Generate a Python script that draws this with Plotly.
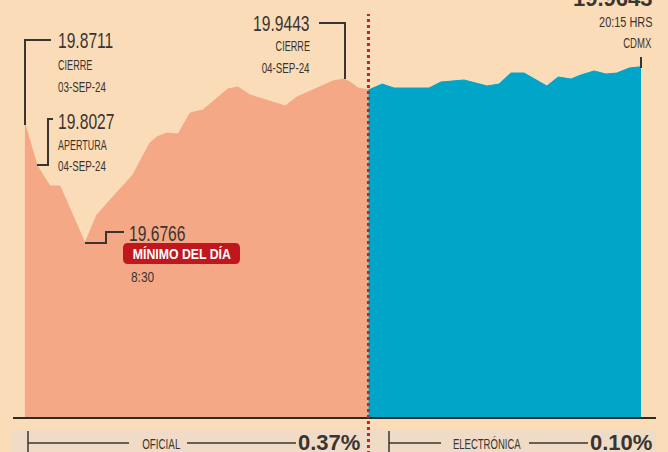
import json
import plotly.graph_objects as go

# ---------------- data ----------------
# official session (hours of day, MXN per USD)
oficial_hora = [7.23, 7.49, 7.76, 7.97, 8.50, 8.75, 9.03, 9.51, 9.87, 10.02, 10.23, 10.47,
                10.72, 10.99, 11.52, 11.73, 11.99, 12.73, 12.98, 13.40, 13.74, 13.97,
                14.10, 14.27, 14.49]
oficial_valor = [19.8711, 19.8027, 19.7697, 19.7697, 19.6766, 19.7224, 19.7469, 19.7877,
                 19.8399, 19.8497, 19.8562, 19.8546, 19.8888, 19.8937, 19.9280, 19.9313,
                 19.9182, 19.9003, 19.9149, 19.9296, 19.9410, 19.9443, 19.9394, 19.9296,
                 19.9264]
# electronic session
electronica_hora = [14.49, 14.78, 15.03, 15.77, 16.02, 16.51, 17.00, 17.25, 17.50, 17.78,
                    18.26, 18.50, 18.77, 18.98, 19.26, 19.51, 19.74, 20.00, 20.25]
electronica_valor = [19.9264, 19.9361, 19.9296, 19.9296, 19.9394, 19.9427, 19.9329, 19.9361,
                     19.9541, 19.9541, 19.9329, 19.9476, 19.9443, 19.9508, 19.9574, 19.9524,
                     19.9541, 19.9622, 19.9643]
var_oficial = "0.37%"
var_electronica = "0.10%"

# ---------------- geometry helpers ----------------
W, H = 668, 452
PLOT_H = 418
X0, X1 = 6.7037, 20.8206
Y0, Y1 = 19.3913, 20.0732

def px2x(px):
    return X0 + (X1 - X0) * px / W

def py2y(py):
    return Y1 - (Y1 - Y0) * py / PLOT_H

def ppx(px):
    return px / W

def ppy(py):
    return (PLOT_H - py) / PLOT_H

BG = "#FBDCB8"
SALMON = "#F4A886"
BLUE = "#00A5C8"
INK = "#3A3431"
RED = "#C0171E"
FONT = "Liberation Sans, Arial, sans-serif"

fig = go.Figure()
fig.add_trace(go.Scatter(x=oficial_hora, y=oficial_valor, mode="lines", fill="tozeroy",
                         fillcolor=SALMON, line=dict(color=SALMON, width=1),
                         hoverinfo="skip", showlegend=False))
fig.add_trace(go.Scatter(x=electronica_hora, y=electronica_valor, mode="lines", fill="tozeroy",
                         fillcolor=BLUE, line=dict(color=BLUE, width=1),
                         hoverinfo="skip", showlegend=False))

shapes = []
ann = []
squeeze = []

def line_path(points, width=2, color=INK):
    d = "M " + " L ".join(f"{ppx(a)},{ppy(b)}" for a, b in points)
    shapes.append(dict(type="path", path=d, xref="paper", yref="paper",
                       line=dict(color=color, width=width)))

def text(px, py, s, size=14, anchor="left", color=INK, bold=False, sx=0.65):
    ann.append(dict(x=ppx(px), y=ppy(py), xref="paper", yref="paper",
                    text=f"<b>{s}</b>" if bold else s,
                    showarrow=False, xanchor=anchor, yanchor="middle", align=anchor,
                    font=dict(family=FONT, size=size, color=color)))
    squeeze.append(sx)

# bottom band
shapes.append(dict(type="rect", xref="paper", yref="paper", x0=ppx(12), x1=ppx(656),
                   y0=ppy(452), y1=ppy(429), fillcolor="#F0DCC6", line=dict(width=0),
                   layer="below"))
# baseline
shapes.append(dict(type="line", xref="paper", yref="paper", x0=ppx(13), x1=ppx(656),
                   y0=0, y1=0, line=dict(color="#2E2A28", width=2)))
# divider between sessions
shapes.append(dict(type="line", xref="x", yref="paper", x0=oficial_hora[-1], x1=oficial_hora[-1],
                   y0=ppy(460), y1=ppy(14), line=dict(color="#C8202A", width=3, dash="dot")))

# previous close
line_path([(25, 125), (25, 40), (51, 40)])
text(56, 40, f"{oficial_valor[0]:.4f}", size=22, sx=0.71)
text(56, 65, "CIERRE")
text(56, 87, "03-SEP-24", sx=0.7)
# opening
line_path([(37, 165), (48, 165), (48, 119), (53, 119)])
text(56, 122, f"{oficial_valor[1]:.4f}", size=22, sx=0.71)
text(56, 145, "APERTURA", sx=0.64)
text(56, 166, "04-SEP-24", sx=0.7)
# minimum
line_path([(85, 243), (106, 243), (106, 232), (124, 232)])
text(127, 233, f"{min(oficial_valor):.4f}", size=22, sx=0.71)
r = 5
x0b, x1b, y0b, y1b = 123, 240, 243, 264
box = (f"M {ppx(x0b + r)},{ppy(y0b)} L {ppx(x1b - r)},{ppy(y0b)} "
       f"Q {ppx(x1b)},{ppy(y0b)} {ppx(x1b)},{ppy(y0b + r)} L {ppx(x1b)},{ppy(y1b - r)} "
       f"Q {ppx(x1b)},{ppy(y1b)} {ppx(x1b - r)},{ppy(y1b)} L {ppx(x0b + r)},{ppy(y1b)} "
       f"Q {ppx(x0b)},{ppy(y1b)} {ppx(x0b)},{ppy(y1b - r)} L {ppx(x0b)},{ppy(y0b + r)} "
       f"Q {ppx(x0b)},{ppy(y0b)} {ppx(x0b + r)},{ppy(y0b)} Z")
shapes.append(dict(type="path", path=box, xref="paper", yref="paper", fillcolor=RED,
                   line=dict(width=0)))
text(181.5, 254, "MÍNIMO DEL DÍA", size=15, anchor="center", color="white", bold=True, sx=0.82)
text(129, 277, "8:30", size=14, sx=0.85)
# official close
line_path([(319, 23), (345, 23), (345, 79)])
text(312, 24, f"{max(oficial_valor):.4f}", size=22, anchor="right", sx=0.71)
text(312, 46, "CIERRE", anchor="right")
text(312, 68, "04-SEP-24", anchor="right", sx=0.7)
# last electronic quote
line_path([(641, 57), (641, 68)])
text(655, -2, f"{electronica_valor[-1]:.4f}", size=22, anchor="right", bold=True, sx=1.0)
text(654, 22, "20:15 HRS", anchor="right", sx=0.78)
text(654, 43, "CDMX", anchor="right", sx=0.68)

# bottom legend
line_path([(28, 431), (28, 452)], width=1.5)
line_path([(28, 443), (129, 443)], width=1.5)
text(161, 444, "OFICIAL", size=14, anchor="center", sx=0.7)
line_path([(187, 443), (296, 443)], width=1.5)
text(362, 443, var_oficial, size=22, anchor="right", bold=True, sx=1.0)
line_path([(389, 431), (389, 452)], width=1.5)
line_path([(389, 443), (441, 443)], width=1.5)
text(487, 444, "ELECTRÓNICA", size=14, anchor="center", sx=0.68)
line_path([(529, 443), (588, 443)], width=1.5)
text(654, 443, var_electronica, size=22, anchor="right", bold=True, sx=1.0)

fig.update_layout(
    width=W, height=H, margin=dict(l=0, r=0, t=0, b=H - PLOT_H),
    paper_bgcolor=BG, plot_bgcolor=BG,
    xaxis=dict(range=[X0, X1], visible=False, fixedrange=True),
    yaxis=dict(range=[Y0, Y1], visible=False, fixedrange=True),
    shapes=shapes, annotations=ann,
)

post = """
document.body.style.margin = '0';
document.body.style.background = '%s';
var sx = %s;
document.querySelectorAll('g.annotation').forEach(function (g) {
  var i = +g.getAttribute('data-index');
  var t = g.querySelector('text.annotation-text');
  if (!t || sx[i] === undefined || sx[i] === 1) return;
  var a = t.getAttribute('text-anchor');
  t.style.transformBox = 'fill-box';
  t.style.transformOrigin = a === 'start' ? 'left center' : (a === 'end' ? 'right center' : 'center center');
  t.style.transform = 'scaleX(' + sx[i] + ')';
});
""" % (BG, json.dumps(squeeze))

fig.write_html("out.html", config={"displayModeBar": False, "staticPlot": True}, post_script=post)
